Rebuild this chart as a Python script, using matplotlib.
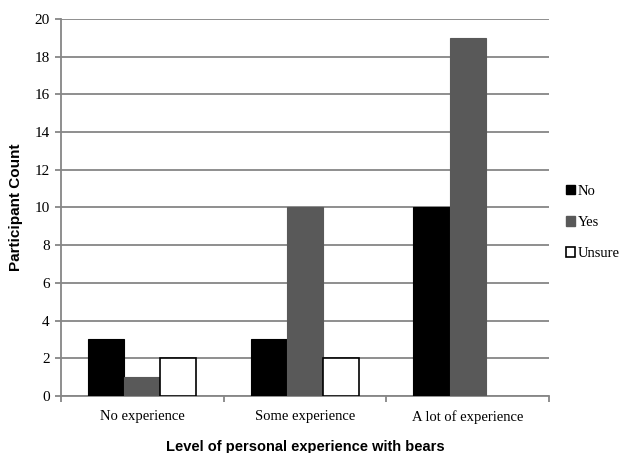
import numpy as np
import matplotlib.pyplot as plt
from matplotlib.patches import Patch

# Survey counts per level of experience
categories = ["No experience", "Some experience", "A lot of experience"]
no_counts = [3, 3, 10]
yes_counts = [1, 10, 19]
unsure_counts = [2, 2, 0]
series_names = ["No", "Yes", "Unsure"]
y_ticks = [0, 2, 4, 6, 8, 10, 12, 14, 16, 18, 20]

serif = "Liberation Serif"
sans = "Liberation Sans"
axis_grey = "#868686"

fig = plt.figure(figsize=(6.21, 4.53), dpi=100)
ax = fig.add_axes([0.098, 0.126, 0.786, 0.832])

x = np.arange(len(categories))
w = 0.222
ax.bar(x - w, no_counts, w, color="black", edgecolor="black", linewidth=0.8, zorder=3)
ax.bar(x, yes_counts, w, color="#595959", edgecolor="#595959", linewidth=0.8, zorder=3)
ax.bar([xi + w for xi, v in zip(x, unsure_counts) if v > 0],
       [v for v in unsure_counts if v > 0], w,
       color="white", edgecolor="black", linewidth=1.2, zorder=3)

ax.set_xlim(-0.5, len(categories) - 0.5)
ax.set_ylim(0, 20)
ax.set_yticks(y_ticks)
ax.set_yticklabels([str(t) for t in y_ticks], fontfamily=serif, fontsize=11)
ax.yaxis.grid(True, color=axis_grey, linewidth=1.3, zorder=0)

# category labels sit between tick marks at the group boundaries
ax.set_xticks(x)
ax.set_xticklabels(categories, fontfamily=serif, fontsize=10.5)
ax.tick_params(axis="x", length=0, pad=10)
ax.set_xticks(np.arange(len(categories) + 1) - 0.5, minor=True)
ax.tick_params(axis="x", which="minor", length=4, color=axis_grey, width=1.3)
ax.tick_params(axis="y", length=4, color=axis_grey, width=1.3, pad=4)

for side in ["top", "right"]:
    ax.spines[side].set_visible(False)
for side in ["left", "bottom"]:
    ax.spines[side].set_color(axis_grey)
    ax.spines[side].set_linewidth(1.3)

ax.set_ylabel("Participant Count", fontfamily=sans, fontweight="bold", fontsize=11, labelpad=8)
ax.set_xlabel("Level of personal experience with bears", fontfamily=sans, fontweight="bold",
              fontsize=10.5, labelpad=12)

handles = [Patch(facecolor="black", edgecolor="black"),
           Patch(facecolor="#595959", edgecolor="#595959"),
           Patch(facecolor="white", edgecolor="black", linewidth=1.2)]
ax.legend(handles, series_names, loc="upper left", bbox_to_anchor=(1.008, 0.595),
          frameon=False, handlelength=0.6, handleheight=0.6, handletextpad=0.2,
          labelspacing=1.25, prop={"family": serif, "size": 10.5})

fig.savefig("out.png", dpi=100)
